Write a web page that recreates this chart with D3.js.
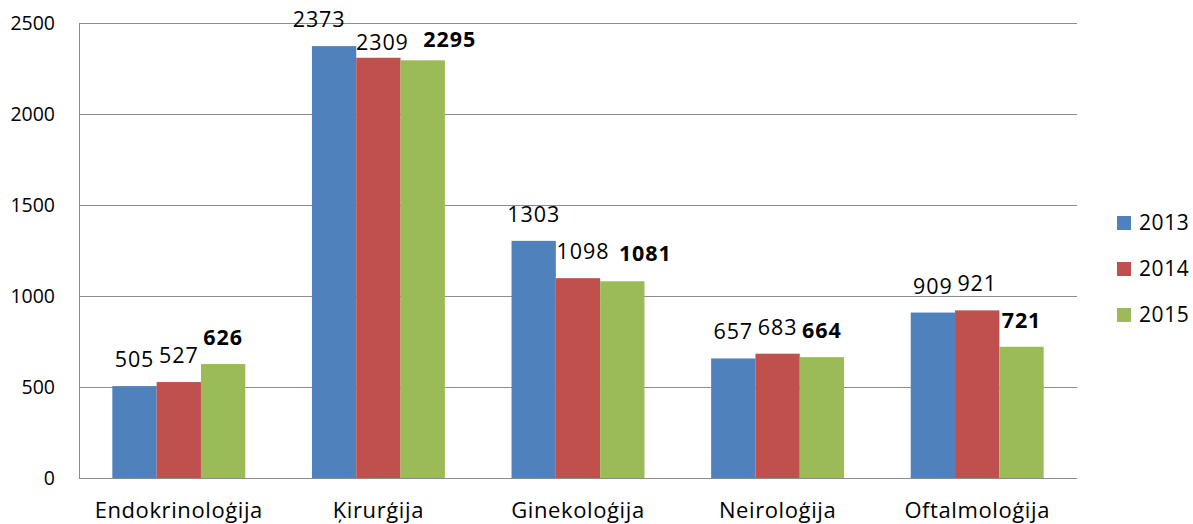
<!DOCTYPE html>
<html>
<head>
<meta charset="utf-8">
<script src="https://cdn.jsdelivr.net/npm/d3@7"></script>
<style>
  body { margin: 0; background: #fff; }
  text { font-family: "Open Sans", sans-serif; fill: #000; }
</style>
</head>
<body>
<div id="chart"></div>
<script>
/****************************************/
/*****  Data   *****/
/****************************************/
const categories = ["Endokrinoloģija", "Ķirurģija", "Ginekoloģija", "Neiroloģija", "Oftalmoloģija"];
const years = ["2013", "2014", "2015"];
const values2013 = [505, 2373, 1303, 657, 909];
const values2014 = [527, 2309, 1098, 683, 921];
const values2015 = [626, 2295, 1081, 664, 721];
const yTicks = [0, 500, 1000, 1500, 2000, 2500];

const seriesValues = [values2013, values2014, values2015];
const colors = ["#4F81BD", "#C0504D", "#9BBB59"];

// rows for binding: one per bar
const rows = [];
categories.forEach((c, ci) => {
  years.forEach((y, yi) => {
    rows.push({ category: c, year: y, value: seriesValues[yi][ci] });
  });
});

// a few labels were dragged by hand in the original
const labelNudge = {
  "Ķirurģija|2013": [-15, 0],
  "Ķirurģija|2014": [4, 11],
  "Ķirurģija|2015": [27, 6],
  "Ginekoloģija|2014": [5, 0],
  "Ginekoloģija|2015": [23, -1]
};

/****************************************/
/*****  Chart   *****/
/****************************************/
const width = 1193;
const height = 524;
const plotLeft = 79;
const plotRight = 1077;
const plotTop = 23;
const plotBottom = 478;

const svg = d3.select('#chart')
  .append('svg')
    .attr('width', width)
    .attr('height', height);

const x = d3.scaleBand()
  .domain(categories)
  .range([plotLeft, plotRight])
  .paddingInner(0.334)
  .paddingOuter(0.167);

const xSub = d3.scaleBand()
  .domain(years)
  .range([0, x.bandwidth()]);

const y = d3.scaleLinear()
  .domain([0, 2500])
  .range([plotBottom, plotTop]);

const color = d3.scaleOrdinal().domain(years).range(colors);

// gridlines
svg.append('g')
  .attr('class', 'grid')
  .selectAll('line')
  .data(yTicks)
  .join('line')
    .attr('x1', plotLeft)
    .attr('x2', plotRight)
    .attr('y1', d => Math.round(y(d)) + 0.5)
    .attr('y2', d => Math.round(y(d)) + 0.5)
    .attr('stroke', '#8c8c8c')
    .attr('stroke-width', 1);

// left axis line
svg.append('line')
  .attr('x1', plotLeft + 0.5)
  .attr('x2', plotLeft + 0.5)
  .attr('y1', y(2500))
  .attr('y2', plotBottom)
  .attr('stroke', '#8c8c8c');

// y tick labels
svg.append('g')
  .selectAll('text')
  .data(yTicks)
  .join('text')
    .attr('x', 55)
    .attr('y', d => y(d))
    .attr('dy', '0.35em')
    .attr('text-anchor', 'end')
    .style('font-size', '19.5px')
    .text(d => d);

// bars
const barsGroup = svg.append('g').attr('class', 'bars');
barsGroup.selectAll('rect')
  .data(rows)
  .join('rect')
    .attr('x', d => x(d.category) + xSub(d.year))
    .attr('y', d => y(d.value))
    .attr('width', xSub.bandwidth())
    .attr('height', d => plotBottom - y(d.value))
    .attr('fill', d => color(d.year));

// bottom axis line over bars
svg.append('line')
  .attr('x1', plotLeft)
  .attr('x2', plotRight)
  .attr('y1', plotBottom + 0.5)
  .attr('y2', plotBottom + 0.5)
  .attr('stroke', '#8c8c8c');

// value labels
barsGroup.selectAll('.label-value')
  .data(rows)
  .join('text')
    .attr('class', 'label-value')
    .attr('x', d => {
      const n = labelNudge[d.category + '|' + d.year] || [0, 0];
      return x(d.category) + xSub(d.year) + xSub.bandwidth() / 2 + n[0];
    })
    .attr('y', d => {
      const n = labelNudge[d.category + '|' + d.year] || [0, 0];
      return y(d.value) - 19 + n[1];
    })
    .attr('text-anchor', 'middle')
    .style('font-size', '21.5px')
    .style('letter-spacing', '0.9px')
    .style('font-weight', d => d.year === '2015' ? 'bold' : 'normal')
    .text(d => d.value);

// category labels
svg.append('g')
  .selectAll('text')
  .data(categories)
  .join('text')
    .attr('x', d => x(d) + x.bandwidth() / 2)
    .attr('y', 518)
    .attr('text-anchor', 'middle')
    .style('font-size', '22px')
    .style('letter-spacing', '0.6px')
    .text(d => d);

// legend
const legend = svg.append('g')
  .selectAll('g')
  .data(years)
  .join('g')
    .attr('transform', (d, i) => `translate(1117, ${223 + i * 46})`);
legend.append('rect')
  .attr('x', 0)
  .attr('y', -7)
  .attr('width', 14)
  .attr('height', 14)
  .attr('fill', d => color(d));
legend.append('text')
  .attr('x', 22)
  .attr('y', 0)
  .attr('dy', '0.35em')
  .style('font-size', '21px')
  .style('letter-spacing', '0.6px')
  .text(d => d);
</script>
</body>
</html>
